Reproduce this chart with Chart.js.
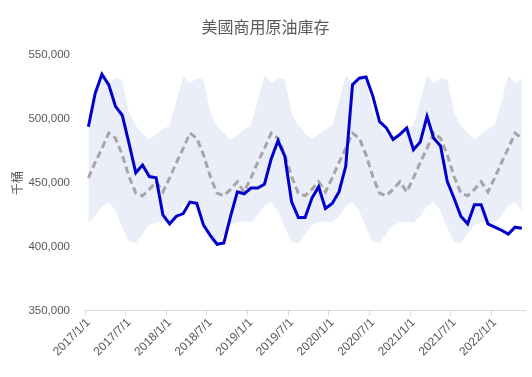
<!DOCTYPE html>
<html>
<head>
<meta charset="utf-8">
<script src="https://cdn.jsdelivr.net/npm/chart.js@4"></script>
<style>
  body { margin: 0; background: #fff; }
  #wrap { width: 532px; height: 377px; }
</style>
</head>
<body>
<div id="wrap"><canvas id="stockChart" width="532" height="377"></canvas></div>
<script>
const months = [
  "2017/1/1", "2017/2/1", "2017/3/1", "2017/4/1", "2017/5/1", "2017/6/1", "2017/7/1", "2017/8/1", "2017/9/1", "2017/10/1", "2017/11/1", "2017/12/1",
  "2018/1/1", "2018/2/1", "2018/3/1", "2018/4/1", "2018/5/1", "2018/6/1", "2018/7/1", "2018/8/1", "2018/9/1", "2018/10/1", "2018/11/1", "2018/12/1",
  "2019/1/1", "2019/2/1", "2019/3/1", "2019/4/1", "2019/5/1", "2019/6/1", "2019/7/1", "2019/8/1", "2019/9/1", "2019/10/1", "2019/11/1", "2019/12/1",
  "2020/1/1", "2020/2/1", "2020/3/1", "2020/4/1", "2020/5/1", "2020/6/1", "2020/7/1", "2020/8/1", "2020/9/1", "2020/10/1", "2020/11/1", "2020/12/1",
  "2021/1/1", "2021/2/1", "2021/3/1", "2021/4/1", "2021/5/1", "2021/6/1", "2021/7/1", "2021/8/1", "2021/9/1", "2021/10/1", "2021/11/1", "2021/12/1",
  "2022/1/1", "2022/2/1", "2022/3/1", "2022/4/1", "2022/5/1"
];

// 千桶
const stocks = [
  494000, 520000, 535000, 527000, 510000, 503000, 481000, 458000, 464000, 455000, 454000, 425000,
  418000, 424000, 426000, 435000, 434000, 417000, 409000, 402000, 403000, 424000, 443000, 441500,
  446000, 446000, 449000, 469000, 483000, 471000, 435500, 423000, 423000, 438000, 447000, 430000,
  434000, 443000, 463000, 527000, 532000, 533000, 518000, 498000, 493000, 484000, 488000, 493000,
  476000, 482000, 502000, 485000, 479000, 451000, 438000, 424000, 418000, 433000, 433000, 418000,
  415500, 413000, 410000, 415400, 414600
];

const fiveYearAvg = [
  454000, 466000, 477000, 489000, 485000, 472000, 455000, 442000, 440000, 445000, 451000, 443000,
  454000, 466000, 477000, 489000, 485000, 472000, 455000, 442000, 440000, 445000, 451000, 443000,
  454000, 466000, 477000, 489000, 485000, 472000, 455000, 442000, 440000, 445000, 451000, 443000,
  454000, 466000, 477000, 489000, 485000, 472000, 455000, 442000, 440000, 445000, 451000, 443000,
  454000, 466000, 477000, 489000, 485000, 472000, 455000, 442000, 440000, 445000, 451000, 443000,
  454000, 466000, 477000, 489000, 485000
];

const rangeHigh = [
  495000, 514000, 534000, 528000, 532000, 531000, 505000, 495000, 489000, 484000, 488000, 492000,
  495000, 514000, 534000, 528000, 532000, 531000, 505000, 495000, 489000, 484000, 488000, 492000,
  495000, 514000, 534000, 528000, 532000, 531000, 505000, 495000, 489000, 484000, 488000, 492000,
  495000, 514000, 534000, 528000, 532000, 531000, 505000, 495000, 489000, 484000, 488000, 492000,
  495000, 514000, 534000, 528000, 532000, 531000, 505000, 495000, 489000, 484000, 488000, 492000,
  495000, 514000, 534000, 528000, 532000
];

const rangeLow = [
  419000, 424000, 432000, 435000, 428000, 415000, 404000, 403000, 410000, 417000, 419000, 420000,
  419000, 424000, 432000, 435000, 428000, 415000, 404000, 403000, 410000, 417000, 419000, 420000,
  419000, 424000, 432000, 435000, 428000, 415000, 404000, 403000, 410000, 417000, 419000, 420000,
  419000, 424000, 432000, 435000, 428000, 415000, 404000, 403000, 410000, 417000, 419000, 420000,
  419000, 424000, 432000, 435000, 428000, 415000, 404000, 403000, 410000, 417000, 419000, 420000,
  419000, 424000, 432000, 435000, 428000
];

const yTicks = [350000, 400000, 450000, 500000, 550000];

const cjk = '"Noto Sans CJK TC", "Noto Sans CJK SC", sans-serif';
const latin = '"Liberation Sans", Arial, sans-serif';

const data = {
  labels: months,
  datasets: [
    {
      label: "商用原油庫存",
      data: stocks,
      borderColor: "#0000CD",
      borderWidth: 3,
      pointRadius: 0,
      tension: 0,
      fill: false,
    },
    {
      label: "五年平均",
      data: fiveYearAvg,
      borderColor: "#A6A6A6",
      borderWidth: 3,
      borderDash: [7, 4],
      pointRadius: 0,
      tension: 0,
      fill: false,
    },
    {
      label: "五年區間上限",
      data: rangeHigh,
      borderWidth: 0,
      borderColor: "rgba(0,0,0,0)",
      backgroundColor: "#E9EEF8",
      pointRadius: 0,
      tension: 0,
      fill: "+1",
    },
    {
      label: "五年區間下限",
      data: rangeLow,
      borderWidth: 0,
      borderColor: "rgba(0,0,0,0)",
      pointRadius: 0,
      tension: 0,
      fill: false,
    },
  ],
};

const config = {
  type: "line",
  data: data,
  options: {
    responsive: false,
    animation: false,
    layout: { padding: { left: 0, right: 1, top: 0, bottom: 0 } },
    plugins: {
      legend: { display: false },
      tooltip: { enabled: false },
      title: {
        display: true,
        text: "美國商用原油庫存",
        color: "#595959",
        font: { family: cjk, size: 16, weight: "normal" },
        padding: { top: 17, bottom: 19 },
      },
    },
    scales: {
      x: {
        type: "category",
        offset: true,
        grid: {
          display: true,
          offset: true,
          drawOnChartArea: false,
          drawTicks: true,
          tickLength: 5,
          color: function (ctx) {
            return ctx.index % 6 === 0 ? "#D9D9D9" : "rgba(0,0,0,0)";
          },
        },
        border: { display: true, color: "#D9D9D9", width: 1 },
        ticks: {
          autoSkip: false,
          minRotation: 45,
          maxRotation: 45,
          padding: 0,
          color: "#595959",
          font: { family: latin, size: 12 },
          callback: function (val, i) {
            return i % 6 === 0 ? months[i] : "";
          },
        },
        afterFit: function (scale) {
          scale.height = 66.3;
        },
      },
      y: {
        min: 350000,
        max: 550000,
        grid: { display: false, drawTicks: false },
        border: { display: false },
        afterBuildTicks: function (scale) {
          scale.ticks = yTicks.map(function (v) {
            return { value: v };
          });
        },
        ticks: {
          padding: 15,
          color: "#595959",
          font: { family: latin, size: 11.5 },
          callback: function (v) {
            return v.toLocaleString("en-US");
          },
        },
        title: {
          display: true,
          text: "千桶",
          color: "#595959",
          font: { family: cjk, size: 12 },
          padding: { top: 10, bottom: 0 },
        },
        afterFit: function (scale) {
          scale.width = 85;
        },
      },
    },
  },
};

const stockChart = new Chart(document.getElementById("stockChart"), config);
</script>
</body>
</html>
